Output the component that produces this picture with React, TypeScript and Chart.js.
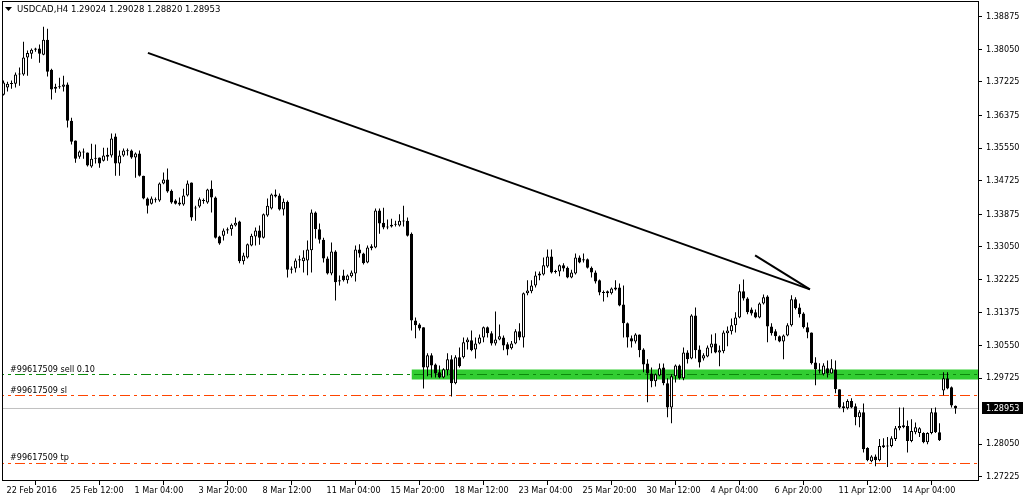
import React, { useEffect, useRef } from "react";
import { Chart, registerables } from "chart.js";

Chart.register(...registerables);

// ---- Data (USDCAD, H4) ----
const opens = [
  1.3690, 1.3708, 1.3717, 1.3718, 1.3741, 1.3741, 1.3784, 1.3794, 1.3804, 1.3807,
  1.3791, 1.3829, 1.3753, 1.3705, 1.3710, 1.3710, 1.3716, 1.3624, 1.3574, 1.3533,
  1.3544, 1.3544, 1.3508, 1.3528, 1.3531, 1.3523, 1.3533, 1.3536, 1.3584, 1.3516,
  1.3536, 1.3549, 1.3549, 1.3531, 1.3541, 1.3485, 1.3427, 1.3414, 1.3425, 1.3422,
  1.3465, 1.3475, 1.3447, 1.3422, 1.3417, 1.3412, 1.3435, 1.3468, 1.3404, 1.3407,
  1.3422, 1.3417, 1.3452, 1.3430, 1.3331, 1.3333, 1.3346, 1.3349, 1.3359, 1.3369,
  1.3268, 1.3278, 1.3308, 1.3331, 1.3346, 1.3328, 1.3384, 1.3402, 1.3432, 1.3435,
  1.3399, 1.3419, 1.3247, 1.3250, 1.3270, 1.3268, 1.3270, 1.3296, 1.3392, 1.3349,
  1.3323, 1.3275, 1.3237, 1.3293, 1.3217, 1.3232, 1.3220, 1.3230, 1.3237, 1.3298,
  1.3288, 1.3265, 1.3306, 1.3303, 1.3397, 1.3366, 1.3354, 1.3356, 1.3361, 1.3359,
  1.3371, 1.3371, 1.3338, 1.3118, 1.3108, 1.3101, 1.2999, 1.3030, 1.3007, 1.2987,
  1.2974, 1.2992, 1.3020, 1.2959, 1.3025, 1.3025, 1.3063, 1.3068, 1.3045, 1.3060,
  1.3075, 1.3101, 1.3086, 1.3060, 1.3070, 1.3075, 1.3058, 1.3048, 1.3060, 1.3091,
  1.3075, 1.3187, 1.3192, 1.3207, 1.3232, 1.3235, 1.3255, 1.3280, 1.3242, 1.3242,
  1.3258, 1.3252, 1.3227, 1.3237, 1.3278, 1.3270, 1.3273, 1.3252, 1.3240, 1.3220,
  1.3189, 1.3192, 1.3187, 1.3202, 1.3202, 1.3159, 1.3111, 1.3073, 1.3065, 1.3083,
  1.3045, 1.3009, 1.2984, 1.2964, 1.2979, 1.2999, 1.2959, 1.2898, 1.2977, 1.3004,
  1.2972, 1.3037, 1.3022, 1.3131, 1.3045, 1.3022, 1.3027, 1.3050, 1.3060, 1.3037,
  1.3040, 1.3086, 1.3091, 1.3106, 1.3126, 1.3192, 1.3174, 1.3146, 1.3139, 1.3126,
  1.3161, 1.3179, 1.3103, 1.3091, 1.3078, 1.3065, 1.3080, 1.3106, 1.3172, 1.3151,
  1.3136, 1.3101, 1.3088, 1.3012, 1.2992, 1.2982, 1.2997, 1.2984, 1.2994, 1.2944,
  1.2901, 1.2896, 1.2914, 1.2901, 1.2873, 1.2886, 1.2795, 1.2762, 1.2774, 1.2764,
  1.2797, 1.2800, 1.2800, 1.2818, 1.2845, 1.2848, 1.2851, 1.2813, 1.2835, 1.2833,
  1.2833, 1.2810, 1.2833, 1.2886, 1.2835, 1.2941, 1.2972, 1.2949, 1.29024,
];

const highs = [
  1.3726, 1.3723, 1.3726, 1.3746, 1.3759, 1.3824, 1.3802, 1.3807, 1.3809, 1.3817,
  1.3862, 1.3857, 1.3756, 1.3718, 1.3733, 1.3738, 1.3721, 1.3632, 1.3574, 1.3549,
  1.3554, 1.3544, 1.3566, 1.3564, 1.3531, 1.3556, 1.3556, 1.3592, 1.3592, 1.3549,
  1.3554, 1.3554, 1.3551, 1.3544, 1.3549, 1.3485, 1.3430, 1.3432, 1.3430, 1.3468,
  1.3493, 1.3503, 1.3450, 1.3425, 1.3430, 1.3452, 1.3473, 1.3468, 1.3409, 1.3430,
  1.3427, 1.3452, 1.3473, 1.3432, 1.3333, 1.3351, 1.3354, 1.3364, 1.3379, 1.3371,
  1.3290, 1.3313, 1.3338, 1.3354, 1.3359, 1.3389, 1.3427, 1.3440, 1.3450, 1.3440,
  1.3427, 1.3422, 1.3255, 1.3275, 1.3283, 1.3296, 1.3321, 1.3399, 1.3394, 1.3364,
  1.3328, 1.3280, 1.3316, 1.3296, 1.3232, 1.3247, 1.3235, 1.3245, 1.3308, 1.3311,
  1.3290, 1.3308, 1.3311, 1.3402, 1.3402, 1.3404, 1.3374, 1.3376, 1.3371, 1.3387,
  1.3409, 1.3379, 1.3341, 1.3126, 1.3111, 1.3101, 1.3035, 1.3035, 1.3009, 1.3004,
  1.2997, 1.3035, 1.3030, 1.3030, 1.3050, 1.3075, 1.3075, 1.3093, 1.3075, 1.3083,
  1.3103, 1.3103, 1.3091, 1.3141, 1.3108, 1.3080, 1.3063, 1.3066, 1.3096, 1.3111,
  1.3189, 1.3220, 1.3220, 1.3242, 1.3242, 1.3278, 1.3298, 1.3298, 1.3247, 1.3260,
  1.3263, 1.3255, 1.3247, 1.3288, 1.3283, 1.3288, 1.3275, 1.3255, 1.3245, 1.3222,
  1.3194, 1.3194, 1.3202, 1.3220, 1.3212, 1.3207, 1.3113, 1.3080, 1.3086, 1.3083,
  1.3048, 1.3020, 1.2999, 1.2984, 1.3009, 1.3009, 1.2972, 1.2982, 1.3007, 1.3007,
  1.3050, 1.3043, 1.3134, 1.3151, 1.3055, 1.3035, 1.3055, 1.3083, 1.3086, 1.3055,
  1.3093, 1.3103, 1.3123, 1.3139, 1.3210, 1.3222, 1.3177, 1.3151, 1.3146, 1.3164,
  1.3184, 1.3182, 1.3111, 1.3096, 1.3080, 1.3083, 1.3111, 1.3182, 1.3177, 1.3161,
  1.3139, 1.3113, 1.3088, 1.3025, 1.3010, 1.3010, 1.3017, 1.3020, 1.3017, 1.2944,
  1.2911, 1.2919, 1.2921, 1.2908, 1.2891, 1.2908, 1.2797, 1.2777, 1.2779, 1.2818,
  1.2820, 1.2823, 1.2825, 1.2851, 1.2898, 1.2898, 1.2865, 1.2868, 1.2860, 1.2848,
  1.2835, 1.2835, 1.2896, 1.2898, 1.2858, 1.2987, 1.2987, 1.2951, 1.29028,
];

const lows = [
  1.3688, 1.3698, 1.3705, 1.3708, 1.3713, 1.3738, 1.3738, 1.3781, 1.3799, 1.3771,
  1.3790, 1.3736, 1.3678, 1.3695, 1.3705, 1.3698, 1.3607, 1.3564, 1.3518, 1.3528,
  1.3528, 1.3508, 1.3505, 1.3516, 1.3505, 1.3521, 1.3523, 1.3531, 1.3485, 1.3485,
  1.3533, 1.3536, 1.3528, 1.3480, 1.3483, 1.3425, 1.3389, 1.3412, 1.3417, 1.3419,
  1.3463, 1.3442, 1.3414, 1.3412, 1.3409, 1.3409, 1.3432, 1.3371, 1.3371, 1.3404,
  1.3414, 1.3414, 1.3392, 1.3326, 1.3310, 1.3321, 1.3338, 1.3333, 1.3356, 1.3263,
  1.3260, 1.3275, 1.3306, 1.3308, 1.3310, 1.3326, 1.3381, 1.3399, 1.3430, 1.3397,
  1.3384, 1.3227, 1.3237, 1.3240, 1.3252, 1.3240, 1.3233, 1.3240, 1.3326, 1.3313,
  1.3265, 1.3235, 1.3233, 1.3169, 1.3207, 1.3217, 1.3212, 1.3227, 1.3217, 1.3278,
  1.3260, 1.3263, 1.3296, 1.3301, 1.3338, 1.3349, 1.3349, 1.3354, 1.3356, 1.3356,
  1.3356, 1.3331, 1.3093, 1.3073, 1.3093, 1.2946, 1.2977, 1.2974, 1.2974, 1.2972,
  1.2972, 1.2979, 1.2926, 1.2957, 1.2999, 1.3022, 1.3045, 1.3040, 1.3022, 1.3058,
  1.3063, 1.3075, 1.3055, 1.3055, 1.3068, 1.3043, 1.3030, 1.3045, 1.3058, 1.3068,
  1.3050, 1.3182, 1.3187, 1.3202, 1.3220, 1.3232, 1.3252, 1.3237, 1.3237, 1.3230,
  1.3242, 1.3225, 1.3225, 1.3235, 1.3263, 1.3265, 1.3250, 1.3227, 1.3212, 1.3182,
  1.3166, 1.3177, 1.3184, 1.3194, 1.3154, 1.3075, 1.3050, 1.3050, 1.3060, 1.3025,
  1.2987, 1.2911, 1.2949, 1.2951, 1.2977, 1.2954, 1.2873, 1.2858, 1.2961, 1.2969,
  1.2967, 1.3009, 1.3020, 1.3022, 1.2999, 1.3017, 1.3025, 1.3035, 1.3035, 1.3002,
  1.3035, 1.3053, 1.3083, 1.3088, 1.3124, 1.3169, 1.3134, 1.3131, 1.3124, 1.3124,
  1.3159, 1.3063, 1.3080, 1.3068, 1.3063, 1.3020, 1.3078, 1.3103, 1.3146, 1.3126,
  1.3098, 1.3073, 1.3007, 1.2954, 1.2984, 1.2979, 1.2974, 1.2984, 1.2934, 1.2896,
  1.2886, 1.2893, 1.2896, 1.2853, 1.2848, 1.2784, 1.2762, 1.2759, 1.2749, 1.2762,
  1.2795, 1.2747, 1.2797, 1.2813, 1.2840, 1.2845, 1.2784, 1.2810, 1.2830, 1.2823,
  1.2807, 1.2805, 1.2830, 1.2833, 1.2813, 1.2929, 1.2944, 1.2898, 1.28820,
];

const closes = [
  1.3721, 1.3718, 1.3719, 1.3741, 1.3743, 1.3784, 1.3796, 1.3804, 1.3807, 1.3794,
  1.3829, 1.3748, 1.3703, 1.3710, 1.3709, 1.3716, 1.3624, 1.3571, 1.3528, 1.3546,
  1.3545, 1.3511, 1.3528, 1.3529, 1.3516, 1.3536, 1.3538, 1.3579, 1.3516, 1.3536,
  1.3549, 1.3547, 1.3531, 1.3541, 1.3485, 1.3427, 1.3409, 1.3427, 1.3423, 1.3465,
  1.3475, 1.3445, 1.3417, 1.3414, 1.3412, 1.3435, 1.3465, 1.3379, 1.3402, 1.3425,
  1.3421, 1.3450, 1.3430, 1.3328, 1.3313, 1.3346, 1.3349, 1.3361, 1.3366, 1.3268,
  1.3283, 1.3311, 1.3333, 1.3346, 1.3328, 1.3387, 1.3409, 1.3437, 1.3437, 1.3399,
  1.3419, 1.3247, 1.3250, 1.3270, 1.3273, 1.3278, 1.3298, 1.3392, 1.3349, 1.3323,
  1.3275, 1.3237, 1.3293, 1.3215, 1.3220, 1.3220, 1.3232, 1.3240, 1.3298, 1.3288,
  1.3263, 1.3303, 1.3301, 1.3397, 1.3364, 1.3354, 1.3355, 1.3361, 1.3362, 1.3371,
  1.3369, 1.3333, 1.3118, 1.3106, 1.3098, 1.2999, 1.3030, 1.3004, 1.2984, 1.2974,
  1.2995, 1.3020, 1.2959, 1.3025, 1.3002, 1.3063, 1.3070, 1.3043, 1.3060, 1.3075,
  1.3101, 1.3086, 1.3060, 1.3070, 1.3078, 1.3055, 1.3045, 1.3060, 1.3091, 1.3075,
  1.3187, 1.3194, 1.3207, 1.3232, 1.3237, 1.3258, 1.3280, 1.3240, 1.3241, 1.3258,
  1.3250, 1.3227, 1.3240, 1.3278, 1.3265, 1.3273, 1.3252, 1.3240, 1.3217, 1.3189,
  1.3188, 1.3187, 1.3199, 1.3197, 1.3156, 1.3111, 1.3075, 1.3065, 1.3083, 1.3043,
  1.3007, 1.2984, 1.2964, 1.2982, 1.2997, 1.2959, 1.2898, 1.2977, 1.3004, 1.2972,
  1.3037, 1.3020, 1.3131, 1.3043, 1.3012, 1.3030, 1.3050, 1.3060, 1.3037, 1.3043,
  1.3088, 1.3093, 1.3106, 1.3126, 1.3192, 1.3174, 1.3139, 1.3136, 1.3126, 1.3161,
  1.3177, 1.3103, 1.3086, 1.3078, 1.3065, 1.3080, 1.3106, 1.3172, 1.3149, 1.3134,
  1.3101, 1.3088, 1.3010, 1.2995, 1.2991, 1.3004, 1.2984, 1.2997, 1.2944, 1.2898,
  1.2896, 1.2914, 1.2898, 1.2873, 1.2886, 1.2792, 1.2764, 1.2774, 1.2764, 1.2800,
  1.2802, 1.2799, 1.2820, 1.2845, 1.2851, 1.2853, 1.2813, 1.2838, 1.2848, 1.2845,
  1.2810, 1.2833, 1.2886, 1.2835, 1.2815, 1.2972, 1.2946, 1.2903, 1.28953,
];

// time axis labels (bar index -> label)
const xTickIndices = [0, 16, 32, 48, 64, 80, 96, 112, 128, 144, 160, 176, 192, 208, 224];
const xTickLabels = [
  "22 Feb 2016", "25 Feb 12:00", "1 Mar 04:00", "3 Mar 20:00", "8 Mar 12:00",
  "11 Mar 04:00", "15 Mar 20:00", "18 Mar 12:00", "23 Mar 04:00", "25 Mar 20:00",
  "30 Mar 12:00", "4 Apr 04:00", "6 Apr 20:00", "11 Apr 12:00", "14 Apr 04:00",
];

// price axis labels
const yTickValues = [
  1.38875, 1.3805, 1.37225, 1.36375, 1.3555, 1.34725, 1.33875, 1.3305,
  1.32225, 1.31375, 1.3055, 1.29725, 1.2805, 1.27225,
];

const headerText = "USDCAD,H4 1.29024 1.29028 1.28820 1.28953";
const bidPrice = 1.28953;

// order lines
const orderLabels = ["#99617509 sell 0.10", "#99617509 sl", "#99617509 tp"];
const orderPrices = [1.29814, 1.29282, 1.2756];
const orderColors = ["#0b8a0b", "#ff4500", "#ff4500"];

// zone rectangle
const zoneTop = 1.2994;
const zoneBottom = 1.2969;
const zoneStartBar = 102;

// trend lines (bar index, price)
const trendMainX = [36.1, 201.6];
const trendMainY = [1.3796, 1.3197];
const trendShortX = [187.9, 201.6];
const trendShortY = [1.3283, 1.3197];

const X_MIN = -0.375;
const X_MAX = 243.625;
const Y_MIN = 1.27142;
const Y_MAX = 1.39274;

const FAMILY = "'DejaVu Sans Condensed', 'Liberation Sans', Arial, sans-serif";
const FONT = { family: FAMILY, size: 9 };

export default function App() {
  const ref = useRef<HTMLCanvasElement>(null);

  useEffect(() => {
    const canvas = ref.current!;
    const idx = opens.map((_, i) => i);
    const bull = idx.map((i) => closes[i] >= opens[i]);

    const overlay = {
      id: "mtOverlay",
      afterDatasetsDraw(chart: any) {
        const { ctx, chartArea, scales } = chart;
        const ys = scales.y;
        ctx.save();
        // frame
        ctx.strokeStyle = "#000";
        ctx.lineWidth = 1;
        ctx.strokeRect(
          chartArea.left + 0.5,
          chartArea.top + 0.5,
          chartArea.right - chartArea.left,
          chartArea.bottom - chartArea.top
        );
        // order labels
        ctx.font = `${FONT.size}px ${FONT.family}`;
        ctx.fillStyle = "#000";
        ctx.textAlign = "left";
        ctx.textBaseline = "bottom";
        orderLabels.forEach((t, k) => {
          const y = ys.getPixelForValue(orderPrices[k]);
          ctx.fillText(t, chartArea.left + 8, Math.round(y) - 1);
        });
        // header
        ctx.beginPath();
        ctx.moveTo(chartArea.left + 3, 7);
        ctx.lineTo(chartArea.left + 10, 7);
        ctx.lineTo(chartArea.left + 6.5, 11);
        ctx.closePath();
        ctx.fill();
        ctx.font = `9.5px ${FONT.family}`;
        ctx.textBaseline = "middle";
        ctx.fillText(headerText, chartArea.left + 15, 10);
        ctx.restore();
      },
      afterDraw(chart: any) {
        const { ctx, chartArea, scales } = chart;
        const y = Math.floor(scales.y.getPixelForValue(bidPrice));
        ctx.save();
        ctx.fillStyle = "#000";
        ctx.fillRect(chartArea.right + 4, y - 6, 41, 12);
        ctx.fillStyle = "#fff";
        ctx.font = `${FONT.size}px ${FONT.family}`;
        ctx.textAlign = "left";
        ctx.textBaseline = "middle";
        ctx.fillText(bidPrice.toFixed(5), chartArea.right + 8, y + 0.5);
        ctx.restore();
      },
    };

    const hLine = (price: number, color: string, dash: number[], order: number) => ({
      type: "line" as const,
      data: [
        { x: X_MIN - 2, y: price },
        { x: X_MAX + 2, y: price },
      ],
      borderColor: color,
      borderWidth: 1,
      borderDash: dash,
      pointRadius: 0,
      fill: false,
      order,
    });

    const chart = new Chart(canvas, {
      type: "bar",
      data: {
        datasets: [
          // zone rectangle
          {
            type: "line",
            data: [
              { x: zoneStartBar, y: zoneTop },
              { x: X_MAX + 5, y: zoneTop },
            ],
            borderWidth: 0,
            borderColor: "rgba(0,0,0,0)",
            backgroundColor: "#32cd32",
            pointRadius: 0,
            fill: { value: zoneBottom },
            order: 20,
          } as any,
          hLine(bidPrice, "#c0c0c0", [], 15),
          hLine(orderPrices[0], orderColors[0], [10, 4, 3, 4], 14),
          hLine(orderPrices[1], orderColors[1], [10, 4, 3, 4], 14),
          hLine(orderPrices[2], orderColors[2], [10, 4, 3, 4], 14),
          // wicks
          {
            type: "bar",
            data: idx.map((i) => ({ x: i, y: [lows[i], highs[i]] })),
            backgroundColor: "#000",
            borderWidth: 0,
            barThickness: 1,
            grouped: false,
            inflateAmount: 0,
            order: 3,
          } as any,
          // bodies
          {
            type: "bar",
            data: idx.map((i) => ({
              x: i,
              y: [Math.min(opens[i], closes[i]), Math.max(opens[i], closes[i])],
            })),
            backgroundColor: idx.map((i) => (bull[i] ? "#fff" : "#000")),
            borderColor: "#000",
            borderWidth: 1,
            borderSkipped: false,
            barThickness: 3,
            minBarLength: 1,
            grouped: false,
            inflateAmount: 0,
            order: 2,
          } as any,
          // trend lines
          {
            type: "line",
            data: trendMainX.map((x, k) => ({ x, y: trendMainY[k] })),
            borderColor: "#000",
            borderWidth: 2,
            pointRadius: 0,
            fill: false,
            order: 0,
          } as any,
          {
            type: "line",
            data: trendShortX.map((x, k) => ({ x, y: trendShortY[k] })),
            borderColor: "#000",
            borderWidth: 2,
            pointRadius: 0,
            fill: false,
            order: 0,
          } as any,
        ],
      },
      options: {
        animation: false,
        responsive: false,
        devicePixelRatio: 1,
        events: [],
        layout: { padding: { left: 2, top: 1, right: 0, bottom: 0 } },
        plugins: {
          legend: { display: false },
          tooltip: { enabled: false },
        },
        scales: {
          x: {
            type: "linear",
            min: X_MIN,
            max: X_MAX,
            position: "bottom",
            offset: false,
            afterBuildTicks: (s: any) => {
              s.ticks = xTickIndices.map((v) => ({ value: v }));
            },
            afterFit: (s: any) => {
              s.height = 20;
              s.paddingLeft = 0;
              s.paddingRight = 0;
            },
            ticks: {
              autoSkip: false,
              maxRotation: 0,
              minRotation: 0,
              align: "start",
              labelOffset: 3,
              padding: 0,
              color: "#000",
              font: FONT,
              callback: (v: any) => {
                const k = xTickIndices.indexOf(Number(v));
                return k >= 0 ? xTickLabels[k] : "";
              },
            },
            grid: {
              drawOnChartArea: false,
              drawTicks: true,
              tickLength: 5,
              color: "#000",
            },
            border: { display: false },
          },
          y: {
            type: "linear",
            position: "right",
            min: Y_MIN,
            max: Y_MAX,
            afterBuildTicks: (s: any) => {
              s.ticks = yTickValues.map((v) => ({ value: v }));
            },
            afterFit: (s: any) => {
              s.width = 46;
              s.paddingTop = 0;
              s.paddingBottom = 0;
            },
            ticks: {
              autoSkip: false,
              padding: 4,
              color: "#000",
              font: FONT,
              callback: (v: any) => Number(v).toFixed(5),
            },
            grid: {
              drawOnChartArea: false,
              drawTicks: true,
              tickLength: 4,
              color: "#000",
            },
            border: { display: false },
          },
        },
      } as any,
      plugins: [overlay],
    });

    return () => chart.destroy();
  }, []);

  return (
    <canvas
      ref={ref}
      width={1024}
      height={500}
      style={{ position: "absolute", left: 0, top: 0, width: 1024, height: 500, background: "#fff" }}
    />
  );
}
